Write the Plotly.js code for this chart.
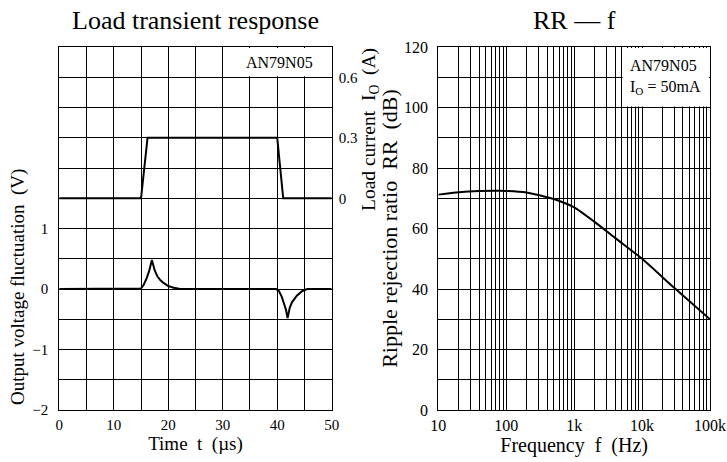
<!DOCTYPE html>
<html>
<head>
<meta charset="utf-8">
<script src="https://cdn.plot.ly/plotly-3.0.1.min.js"></script>
<style>html,body{margin:0;padding:0;background:#fff;}#chart{width:727px;height:462px;}</style>
</head>
<body>
<div id="chart"></div>
<script>
// ---- Load transient response data ----
const timeUs = [0, 15, 16.2, 40, 41.1, 50];
const loadCurrentA = [0, 0, 0.3, 0.3, 0, 0];

const voltTimeUs = [0, 14.6, 15, 15.5, 16, 16.5, 17, 17.5, 18, 18.5, 19, 20, 21, 22, 23,
                    39.8, 40.3, 40.8, 41.2, 41.6, 41.9, 42.3, 42.7, 43.2, 43.6, 44.5, 45.5, 50];
const outputVoltageV = [0, 0, 0.01, 0.07, 0.17, 0.3, 0.48, 0.31, 0.21, 0.15, 0.11, 0.05, 0.02, 0.005, 0,
                        0, -0.03, -0.12, -0.22, -0.34, -0.48, -0.31, -0.22, -0.15, -0.11, -0.04, 0, 0];

const timeTickVals = [0, 10, 20, 30, 40, 50];
const timeGridVals = [0, 5, 10, 15, 20, 25, 30, 35, 40, 45, 50];
const voltTickVals = [-2, -1, 0, 1];
const voltTickText = ['\u22122', '\u22121', '0', '1'];
const voltGridVals = [-2, -1.5, -1, -0.5, 0, 0.5, 1, 1.5, 2, 2.5, 3, 3.5, 4];
const currentTickVals = [0, 0.3, 0.6];
const currentTickText = ['0', '0.3', '0.6'];

// ---- RR - f data ----
const freqHz = [10, 20, 40, 80, 200, 400, 620, 1000, 2000, 4000, 10000, 30000, 100000];
const rippleRejectionDb = [71.2, 72, 72.4, 72.5, 71.9, 70.3, 69.0, 67.0, 62.2, 56.9, 50, 40.3, 30];

const freqTickVals = [10, 100, 1000, 10000, 100000];
const freqTickText = ['10', '100', '1k', '10k', '100k'];
const freqGridVals = [10, 20, 30, 40, 50, 60, 70, 80, 90,
                      100, 200, 300, 400, 500, 600, 700, 800, 900,
                      1000, 2000, 3000, 4000, 5000, 6000, 7000, 8000, 9000,
                      10000, 20000, 30000, 40000, 50000, 60000, 70000, 80000, 90000, 100000];
const rrTickVals = [0, 20, 40, 60, 80, 100, 120];
const rrGridVals = [0, 10, 20, 30, 40, 50, 60, 70, 80, 90, 100, 110, 120];

const FONT = 'Liberation Serif';
const W = 727;
function f(size) { return { family: FONT, size: size, color: '#000' }; }

function gridAxis(gridVals) {
  return {
    showgrid: true, gridcolor: '#000', gridwidth: 1,
    minor: { tickmode: 'array', tickvals: gridVals, showgrid: true, gridcolor: '#000', gridwidth: 1, ticks: '' },
    showline: true, linecolor: '#000', linewidth: 1, mirror: true,
    zeroline: false, ticks: '', fixedrange: true, tickmode: 'array'
  };
}

const traces = [
  { x: timeUs, y: loadCurrentA, xaxis: 'x', yaxis: 'y2', type: 'scatter', mode: 'lines',
    line: { color: '#000', width: 2 }, hoverinfo: 'skip', name: 'Load current' },
  { x: voltTimeUs, y: outputVoltageV, xaxis: 'x', yaxis: 'y', type: 'scatter', mode: 'lines',
    line: { color: '#000', width: 2 }, hoverinfo: 'skip', name: 'Output voltage' },
  { x: freqHz, y: rippleRejectionDb, xaxis: 'x2', yaxis: 'y3', type: 'scatter', mode: 'lines',
    line: { color: '#000', width: 2, shape: 'spline', smoothing: 0.6 }, hoverinfo: 'skip', name: 'RR' }
];

const layout = {
  width: 727, height: 462,
  margin: { l: 0, r: 0, t: 47, b: 52, pad: 0 },
  paper_bgcolor: '#fff', plot_bgcolor: '#fff',
  showlegend: false,
  font: f(15),
  xaxis: Object.assign(gridAxis(timeGridVals), {
    domain: [59.3 / W, 331.7 / W], range: [0, 50], anchor: 'y',
    tickvals: timeTickVals, ticktext: timeTickVals.map(String),
    tickfont: f(15), ticklabelstandoff: 1,
    title: { text: 'Time\u00a0 t\u00a0 (\u00b5s)', font: f(19), standoff: 4 }
  }),
  yaxis: Object.assign(gridAxis(voltGridVals), {
    domain: [0, 1], range: [-2, 4], anchor: 'x',
    tickvals: voltTickVals, ticktext: voltTickText,
    tickfont: f(15), ticklabelstandoff: 7
  }),
  yaxis2: {
    overlaying: 'y', side: 'right', anchor: 'x', range: [-1.05, 0.75],
    showgrid: false, zeroline: false, showline: true, linecolor: '#000', linewidth: 1,
    ticks: '', tickmode: 'array', tickvals: currentTickVals, ticktext: currentTickText,
    tickfont: f(15), ticklabelstandoff: 3, fixedrange: true
  },
  xaxis2: Object.assign(gridAxis(freqGridVals), {
    type: 'log', domain: [438.3 / W, 710 / W], range: [1, 5], anchor: 'y3',
    tickvals: freqTickVals, ticktext: freqTickText,
    tickfont: f(16), ticklabelstandoff: 1,
    title: { text: 'Frequency\u00a0 f\u00a0 (Hz)', font: f(20), standoff: 4 }
  }),
  yaxis3: Object.assign(gridAxis(rrGridVals), {
    domain: [0, 1], range: [0, 120], anchor: 'x2',
    tickvals: rrTickVals, ticktext: rrTickVals.map(String),
    tickfont: f(16), ticklabelstandoff: 6,
    title: { text: 'Ripple rejection ratio\u00a0 RR\u00a0 (dB)', font: f(22), standoff: 0 }
  }),
  shapes: [
    { type: 'rect', xref: 'x', yref: 'y', x0: 30.18, x1: 49.82, y0: 3.518, y1: 3.982,
      fillcolor: '#fff', line: { width: 0 }, layer: 'above' },
    { type: 'rect', xref: 'x2', yref: 'y3', x0: 5180, x1: 96500, y0: 100.35, y1: 119.65,
      fillcolor: '#fff', line: { width: 0 }, layer: 'above' }
  ],
  annotations: [
    { text: 'Load transient response', xref: 'paper', yref: 'paper', x: 195.5 / W, y: 1 + (47 - 20) / 363,
      xanchor: 'center', yanchor: 'middle', showarrow: false, font: f(26) },
    { text: 'RR \u2014 f', xref: 'paper', yref: 'paper', x: 574 / W, y: 1 + (47 - 20) / 363,
      xanchor: 'center', yanchor: 'middle', showarrow: false, font: f(26) },
    { text: 'AN79N05', xref: 'x', yref: 'y', x: 40.5, y: 3.75,
      xanchor: 'center', yanchor: 'middle', showarrow: false, font: f(16) },
    { text: 'AN79N05<br>I<sub>O</sub> = 50mA', xref: 'x2', yref: 'y3', x: 3.8, y: 110,
      xanchor: 'left', yanchor: 'middle', align: 'left', showarrow: false, font: f(16) },
    { text: 'Output voltage fluctuation\u00a0 (V)', xref: 'paper', yref: 'paper', x: 18 / W, y: (410 - 287) / 363,
      xanchor: 'center', yanchor: 'middle', textangle: -90, showarrow: false, font: f(19) },
    { text: 'Load current\u00a0 I<sub>O</sub>\u00a0 (A)', xref: 'paper', yref: 'paper', x: 370 / W, y: (410 - 129) / 363,
      xanchor: 'center', yanchor: 'middle', textangle: -90, showarrow: false, font: f(19.5) }
  ]
};

Plotly.newPlot('chart', traces, layout, { staticPlot: true, displayModeBar: false });
</script>
</body>
</html>
